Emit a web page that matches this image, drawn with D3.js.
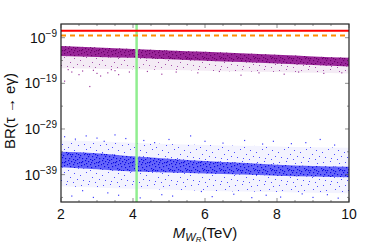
<!DOCTYPE html>
<html><head><meta charset="utf-8">
<script src="https://cdn.jsdelivr.net/npm/d3@7"></script>
<style>body{margin:0;background:#fff}svg{display:block;font-family:"Liberation Sans",Arial,sans-serif}</style>
</head><body><svg id="c" width="374" height="246"></svg>
<script>
// ---- data ----
const xTicks = [2, 4, 6, 8, 10];
const yTickExps = [-9, -19, -29, -39];
const limitCurrent = 3.3e-8;   // red solid line
const limitFuture = 3e-9;      // orange dashed line
const mwrLine = 4.1;           // green vertical line
// band samples (M_WR in TeV, BR)
const bandX = [2, 3, 4, 5, 6, 7, 8, 9, 10];
const purpleHi = [1.6e-11, 7e-12, 3.5e-12, 1.6e-12, 8e-13, 4e-13, 1.8e-13, 8e-14, 4e-14];
const purpleLo = [1e-13, 6e-14, 4e-14, 2e-14, 9e-15, 4.5e-15, 2.2e-15, 1e-15, 5e-16];
const purpleHaloLo = [2e-16, 1.5e-16, 1.2e-16, 8e-17, 6e-17, 4e-17, 3e-17, 2e-17, 1.5e-17];
const blueHi = [1e-34, 5e-35, 1e-35, 3e-36, 1e-36, 4e-37, 1.5e-37, 8e-38, 5e-38];
const blueLo = [4e-38, 1.5e-38, 5e-39, 3e-39, 1.8e-39, 1e-39, 6e-40, 4e-40, 2.5e-40];
const blueHaloHi = [3e-32, 2e-32, 1e-32, 5e-33, 3e-33, 2e-33, 1.5e-33, 1e-33, 8e-34];
const blueHaloLo = [3e-42, 1.5e-42, 8e-43, 5e-43, 3e-43, 2e-43, 1.5e-43, 1e-43, 8e-44];
// sparse outlier points [M_WR, BR]
const purpleOut = [[2.1,3e-19],[2.3,3e-17],[2.5,8e-18],[2.6,5e-17],[2.8,2e-20],[3.0,1.5e-17],[3.1,4e-18],[3.3,2e-17],[3.5,6e-17],[3.6,8e-18],[3.9,3e-17],[4.4,4e-17],[4.8,1e-17],[5.2,3e-17],[5.8,2e-17],[6.4,4e-17],[7.0,6e-18],[7.5,2e-17],[8.2,1e-17],[8.6,3e-17],[9.3,1.5e-17],[9.8,2e-17],[2.2,1e-16],[2.9,7e-17],[3.4,1e-16]];
const blueOut = [[2.1,2e-31],[2.4,6e-32],[2.7,3e-31],[3.0,1e-31],[3.2,2e-32],[3.5,5e-31],[3.8,8e-32],[4.3,3e-32],[4.6,1e-32],[5.0,5e-32],[5.6,3e-31],[6.0,2e-32],[6.5,8e-33],[7.1,3e-32],[7.6,5e-33],[7.9,2e-32],[8.4,6e-33],[8.8,1e-32],[9.2,5e-32],[9.6,3e-33],[2.3,2e-44],[2.9,1e-44],[3.6,3e-44],[4.2,8e-45],[5.1,2e-44],[6.2,1.5e-44],[7.3,9e-45],[8.1,1.2e-44],[9.0,1e-44],[9.7,7e-45],[2.6,3e-43],[3.3,1e-43],[4.8,4e-44],[5.9,2e-43],[6.8,5e-44],[7.7,3e-44],[8.7,6e-44],[9.4,4e-44]];

// ---- chart ----
const svg = d3.select("#c");
const L = 61, R = 349, T = 24, B = 202;
const x = d3.scaleLinear().domain([2, 10]).range([L, R]);
const y = d3.scaleLog().domain([1e-45, 1e-6]).range([B, T]);

const defs = svg.append("defs");
defs.append("clipPath").attr("id","clp").append("rect")
  .attr("x", L).attr("y", T).attr("width", R-L).attr("height", B-T);
// stipple textures (style only, irregular tiles)
function stipple(id, color, w, h, pts, r){
  const p = defs.append("pattern").attr("id", id).attr("patternUnits","userSpaceOnUse")
    .attr("width", w).attr("height", h);
  pts.forEach(q => p.append("rect").attr("x", q[0]).attr("y", q[1]).attr("width", r).attr("height", r).attr("fill", color));
}
const dense = [[0,0],[3,1],[7,0],[11,2],[14,1],[1,3],[5,4],[9,3],[13,5],[16,4],[2,6],[6,7],[10,6],[15,8],[0,9],[4,10],[8,9],[12,11],[16,10],[3,12],[7,12],[11,13],[14,14],[1,14],[9,15],[5,15],[13,2],[6,2],[2,10],[10,10]];
const sparse = [[0,0],[9,2],[15,1],[5,5],[12,7],[2,9],[18,6],[8,12],[14,14],[20,11],[4,16],[11,18],[17,19],[1,20],[7,21]];
stipple("pDense", "#6a006a", 17, 16, dense, 1.2);
stipple("pSparse", "#9a40a0", 22, 23, sparse, 1);
stipple("bDense", "#0a0ae0", 17, 16, dense, 1.2);
stipple("bSparse", "#3a3aff", 22, 23, sparse, 1);

const g = svg.append("g").attr("clip-path","url(#clp)");

function band(hi, lo, fill, op){
  const a = d3.area().x((d,i)=>x(bandX[i])).y0((d,i)=>y(lo[i])).y1((d,i)=>y(hi[i])).curve(d3.curveMonotoneX);
  g.append("path").datum(bandX).attr("d", a).attr("fill", fill).attr("opacity", op);
}
band(purpleLo, purpleHaloLo, "#c090c8", 0.18);
band(purpleLo, purpleHaloLo, "url(#pSparse)", 0.9);
band(purpleHi, purpleLo, "#870087", 0.85);
band(purpleHi, purpleLo, "url(#pDense)", 1);
band(blueHaloHi, blueHi, "#9a9aff", 0.12);
band(blueLo, blueHaloLo, "#9a9aff", 0.12);
band(blueHaloHi, blueHi, "url(#bSparse)", 0.9);
band(blueLo, blueHaloLo, "url(#bSparse)", 0.9);
band(blueHi, blueLo, "#2a2af8", 0.72);
band(blueHi, blueLo, "url(#bDense)", 1);

g.selectAll(".po").data(purpleOut).join("rect").attr("x", d=>x(d[0])-0.6).attr("y", d=>y(d[1])-0.6)
  .attr("width",1.2).attr("height",1.2).attr("fill","#a040a0");
g.selectAll(".bo").data(blueOut).join("rect").attr("x", d=>x(d[0])-0.6).attr("y", d=>y(d[1])-0.6)
  .attr("width",1.2).attr("height",1.2).attr("fill","#4040ff");

g.append("line").attr("x1", x(mwrLine)).attr("x2", x(mwrLine)).attr("y1", T).attr("y2", B)
  .attr("stroke", "#90ee90").attr("stroke-width", 2.5);
g.append("line").attr("x1", L).attr("x2", R).attr("y1", y(limitCurrent)).attr("y2", y(limitCurrent))
  .attr("stroke", "#ff0000").attr("stroke-width", 2);
g.append("line").attr("x1", L).attr("x2", R).attr("y1", y(limitFuture)).attr("y2", y(limitFuture))
  .attr("stroke", "#ff8c00").attr("stroke-width", 2).attr("stroke-dasharray", "5,4");

// frame
svg.append("rect").attr("x", L).attr("y", T).attr("width", R-L).attr("height", B-T)
  .attr("fill","none").attr("stroke","#222").attr("stroke-width",1.2);

// ticks
d3.range(2, 10.01, 0.5).forEach(v => {
  const len = xTicks.includes(v) ? 4 : 2;
  svg.append("line").attr("x1",x(v)).attr("x2",x(v)).attr("y1",B).attr("y2",B-len).attr("stroke","#444").attr("stroke-width",0.6);
  svg.append("line").attr("x1",x(v)).attr("x2",x(v)).attr("y1",T).attr("y2",T+len).attr("stroke","#444").attr("stroke-width",0.6);
});
d3.range(-44, -6, 1).forEach(e => {
  const major = yTickExps.includes(e);
  if(!major && (e + 9) % 5 !== 0) return;
  const len = major ? 4 : 2;
  svg.append("line").attr("x1",L).attr("x2",L+len).attr("y1",y(10**e)).attr("y2",y(10**e)).attr("stroke","#444").attr("stroke-width",0.6);
  svg.append("line").attr("x1",R).attr("x2",R-len).attr("y1",y(10**e)).attr("y2",y(10**e)).attr("stroke","#444").attr("stroke-width",0.6);
});

// tick labels
svg.selectAll(".xt").data(xTicks).join("text").attr("x", d=>x(d)).attr("y", 219)
  .attr("text-anchor","middle").attr("font-size",14).attr("fill","#111").text(d=>d);
yTickExps.forEach(e => {
  const t = svg.append("text").attr("x", 57).attr("y", y(10**e)+5).attr("text-anchor","end")
    .attr("font-size",14).attr("fill","#111");
  t.append("tspan").text("10");
  t.append("tspan").attr("dy",-6).attr("font-size",10).text("\u2212" + Math.abs(e));
});

// axis titles
const xt = svg.append("text").attr("x", 205).attr("y", 238).attr("text-anchor","middle").attr("font-size",15).attr("fill","#111");
xt.append("tspan").attr("font-style","italic").text("M");
xt.append("tspan").attr("font-style","italic").attr("font-size",11).attr("dy",2.5).text("W");
xt.append("tspan").attr("font-style","italic").attr("font-size",8).attr("dy",1.5).text("R");
xt.append("tspan").attr("dy",-4).text("(TeV)");

svg.append("text").attr("transform","translate(15,111) rotate(-90)").attr("text-anchor","middle")
  .attr("font-size",15).attr("fill","#111").text("BR(\u03C4 \u2192 e\u03B3)");
</script></body></html>
